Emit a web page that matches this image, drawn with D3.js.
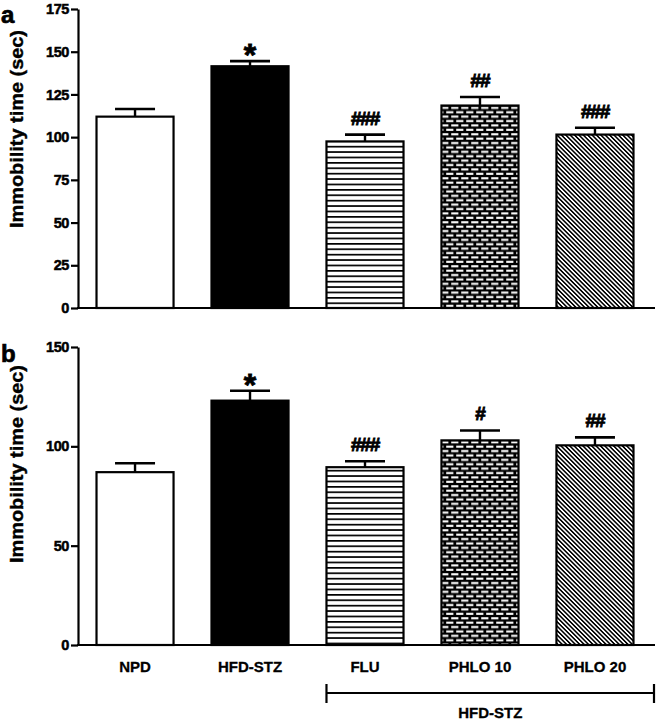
<!DOCTYPE html>
<html>
<head>
<meta charset="utf-8">
<script src="https://cdn.jsdelivr.net/npm/d3@7"></script>
<style>
  body { margin: 0; background: #fff; }
  svg { display: block; font-family: "Liberation Sans", Arial, Helvetica, sans-serif; font-weight: bold; }
</style>
</head>
<body>
<svg id="chart" width="657" height="721"></svg>
<script>
// ---- data ----
const categories = ["NPD", "HFD-STZ", "FLU", "PHLO 10", "PHLO 20"];
const fills = ["white", "black", "hlines", "bricks", "diag"];

const valuesA = [112, 141.5, 97.5, 118.5, 101.5];
const errorsA = [4.5, 3, 4, 5, 4];
const marksA = ["", "*", "###", "##", "###"];
const ticksA = [0, 25, 50, 75, 100, 125, 150, 175];

const valuesB = [87, 123, 89.5, 103, 100.5];
const errorsB = [4.5, 5, 3, 5, 4];
const marksB = ["", "*", "###", "#", "##"];
const ticksB = [0, 50, 100, 150];

const yLabel = "Immobility time (sec)";
const groupLabel = "HFD-STZ";

// ---- drawing ----
const svg = d3.select("#chart");
const defs = svg.append("defs");

// horizontal lines pattern
const pH = defs.append("pattern").attr("id", "hlines").attr("patternUnits", "userSpaceOnUse")
  .attr("width", 10).attr("height", 5.4);
pH.append("rect").attr("width", 10).attr("height", 5.4).attr("fill", "white");
pH.append("rect").attr("y", 0).attr("width", 10).attr("height", 1.7).attr("fill", "black");

// bricks pattern
const pB = defs.append("pattern").attr("id", "bricks").attr("patternUnits", "userSpaceOnUse")
  .attr("width", 10).attr("height", 8.8);
pB.append("rect").attr("width", 10).attr("height", 8.8).attr("fill", "black");
pB.append("rect").attr("x", 1.2).attr("y", 1.2).attr("width", 7.2).attr("height", 2.1).attr("fill", "white");
pB.append("rect").attr("x", -3.8).attr("y", 5.6).attr("width", 7.2).attr("height", 2.1).attr("fill", "white");
pB.append("rect").attr("x", 6.2).attr("y", 5.6).attr("width", 7.2).attr("height", 2.1).attr("fill", "white");

// diagonal pattern (top-left to bottom-right)
const pD = defs.append("pattern").attr("id", "diag").attr("patternUnits", "userSpaceOnUse")
  .attr("width", 3.1).attr("height", 10).attr("patternTransform", "rotate(-45)");
pD.append("rect").attr("width", 3.1).attr("height", 10).attr("fill", "white");
pD.append("rect").attr("width", 1.55).attr("height", 10).attr("fill", "black");

function fillOf(f) {
  if (f === "white" || f === "black") return f;
  return "url(#" + f + ")";
}

const x = d3.scaleBand().domain(categories).range([78, 652]).paddingInner(0.33).paddingOuter(0.161);
const xEnd = 655;

function heavy(sel, w) {
  return sel.attr("stroke", "black").attr("stroke-width", w).attr("paint-order", "stroke");
}

function panel(opts) {
  const { top, bottom, max, ticks, values, errors, marks, letter, letterY, labelCenter, showX } = opts;
  const y = d3.scaleLinear().domain([0, max]).range([bottom, top]);
  const g = svg.append("g");

  // bars
  g.selectAll("rect.bar").data(categories).join("rect")
    .attr("class", "bar")
    .attr("x", d => x(d))
    .attr("y", (d, i) => y(values[i]))
    .attr("width", x.bandwidth())
    .attr("height", (d, i) => y(0) - y(values[i]))
    .attr("fill", (d, i) => fillOf(fills[i]))
    .attr("stroke", "black")
    .attr("stroke-width", 2.2);

  // error bars
  const capW = 40;
  g.selectAll("line.err").data(categories).join("line")
    .attr("x1", d => x(d) + x.bandwidth() / 2)
    .attr("x2", d => x(d) + x.bandwidth() / 2)
    .attr("y1", (d, i) => y(values[i]))
    .attr("y2", (d, i) => y(values[i] + errors[i]))
    .attr("stroke", "black").attr("stroke-width", 2.4);
  g.selectAll("line.cap").data(categories).join("line")
    .attr("x1", d => x(d) + x.bandwidth() / 2 - capW / 2)
    .attr("x2", d => x(d) + x.bandwidth() / 2 + capW / 2)
    .attr("y1", (d, i) => y(values[i] + errors[i]))
    .attr("y2", (d, i) => y(values[i] + errors[i]))
    .attr("stroke", "black").attr("stroke-width", 2.6);

  // significance marks
  categories.forEach((d, i) => {
    const m = marks[i];
    if (!m) return;
    const capY = y(values[i] + errors[i]);
    const cx = x(d) + x.bandwidth() / 2;
    if (m === "*") {
      heavy(g.append("text").attr("x", cx).attr("y", capY + 5)
        .attr("text-anchor", "middle").attr("font-size", 32).text(m), 0.8);
    } else {
      heavy(g.append("text").attr("x", cx).attr("y", capY - 10)
        .attr("text-anchor", "middle").attr("font-size", 19).attr("letter-spacing", -1.2).text(m), 0.9);
    }
  });

  // y axis
  const ax = g.append("g").attr("transform", "translate(78,0)")
    .call(d3.axisLeft(y).tickValues(ticks).tickSize(7).tickSizeOuter(0).tickPadding(2));
  ax.select(".domain").attr("stroke-width", 2.2);
  ax.selectAll(".tick line").attr("stroke-width", 2.2);
  heavy(ax.selectAll(".tick text").attr("font-size", 14.5).attr("font-family", "Liberation Sans, Arial, sans-serif")
    .attr("font-weight", "bold").attr("fill", "black").attr("letter-spacing", -0.4), 0.5);

  // x axis line
  g.append("line").attr("x1", 77).attr("x2", xEnd).attr("y1", y(0)).attr("y2", y(0))
    .attr("stroke", "black").attr("stroke-width", 2.2);

  if (showX) {
    const xa = g.append("g").attr("transform", `translate(0,${y(0)})`)
      .call(d3.axisBottom(x).tickSize(0).tickPadding(16));
    xa.select(".domain").remove();
    heavy(xa.selectAll(".tick text").attr("font-size", 15).attr("font-family", "Liberation Sans, Arial, sans-serif")
      .attr("font-weight", "bold").attr("fill", "black"), 0.3);
  }

  // y label
  heavy(g.append("text")
    .attr("transform", `translate(23,${labelCenter}) rotate(-90)`)
    .attr("text-anchor", "middle").attr("font-size", 18)
    .attr("textLength", 198).attr("lengthAdjust", "spacingAndGlyphs")
    .text(yLabel), 0.4);

  // panel letter
  heavy(g.append("text").attr("x", 1).attr("y", letterY).attr("font-size", 24).text(letter), 0.7);
}

panel({ top: 9, bottom: 308, max: 175, ticks: ticksA, values: valuesA, errors: errorsA, marks: marksA,
  letter: "a", letterY: 23, labelCenter: 129, showX: false });
panel({ top: 347, bottom: 645, max: 150, ticks: ticksB, values: valuesB, errors: errorsB, marks: marksB,
  letter: "b", letterY: 362, labelCenter: 464, showX: true });

// group bracket
const bx0 = x("FLU"), bx1 = xEnd - 1, by = 693;
svg.append("line").attr("x1", bx0).attr("x2", bx1).attr("y1", by).attr("y2", by).attr("stroke", "black").attr("stroke-width", 2.2);
svg.append("line").attr("x1", bx0).attr("x2", bx0).attr("y1", by - 9).attr("y2", by + 10).attr("stroke", "black").attr("stroke-width", 2.2);
svg.append("line").attr("x1", bx1).attr("x2", bx1).attr("y1", by - 9).attr("y2", by + 10).attr("stroke", "black").attr("stroke-width", 2.2);
heavy(svg.append("text").attr("x", (bx0 + bx1) / 2).attr("y", 718).attr("text-anchor", "middle")
  .attr("font-size", 15).text(groupLabel), 0.3);
</script>
</body>
</html>
